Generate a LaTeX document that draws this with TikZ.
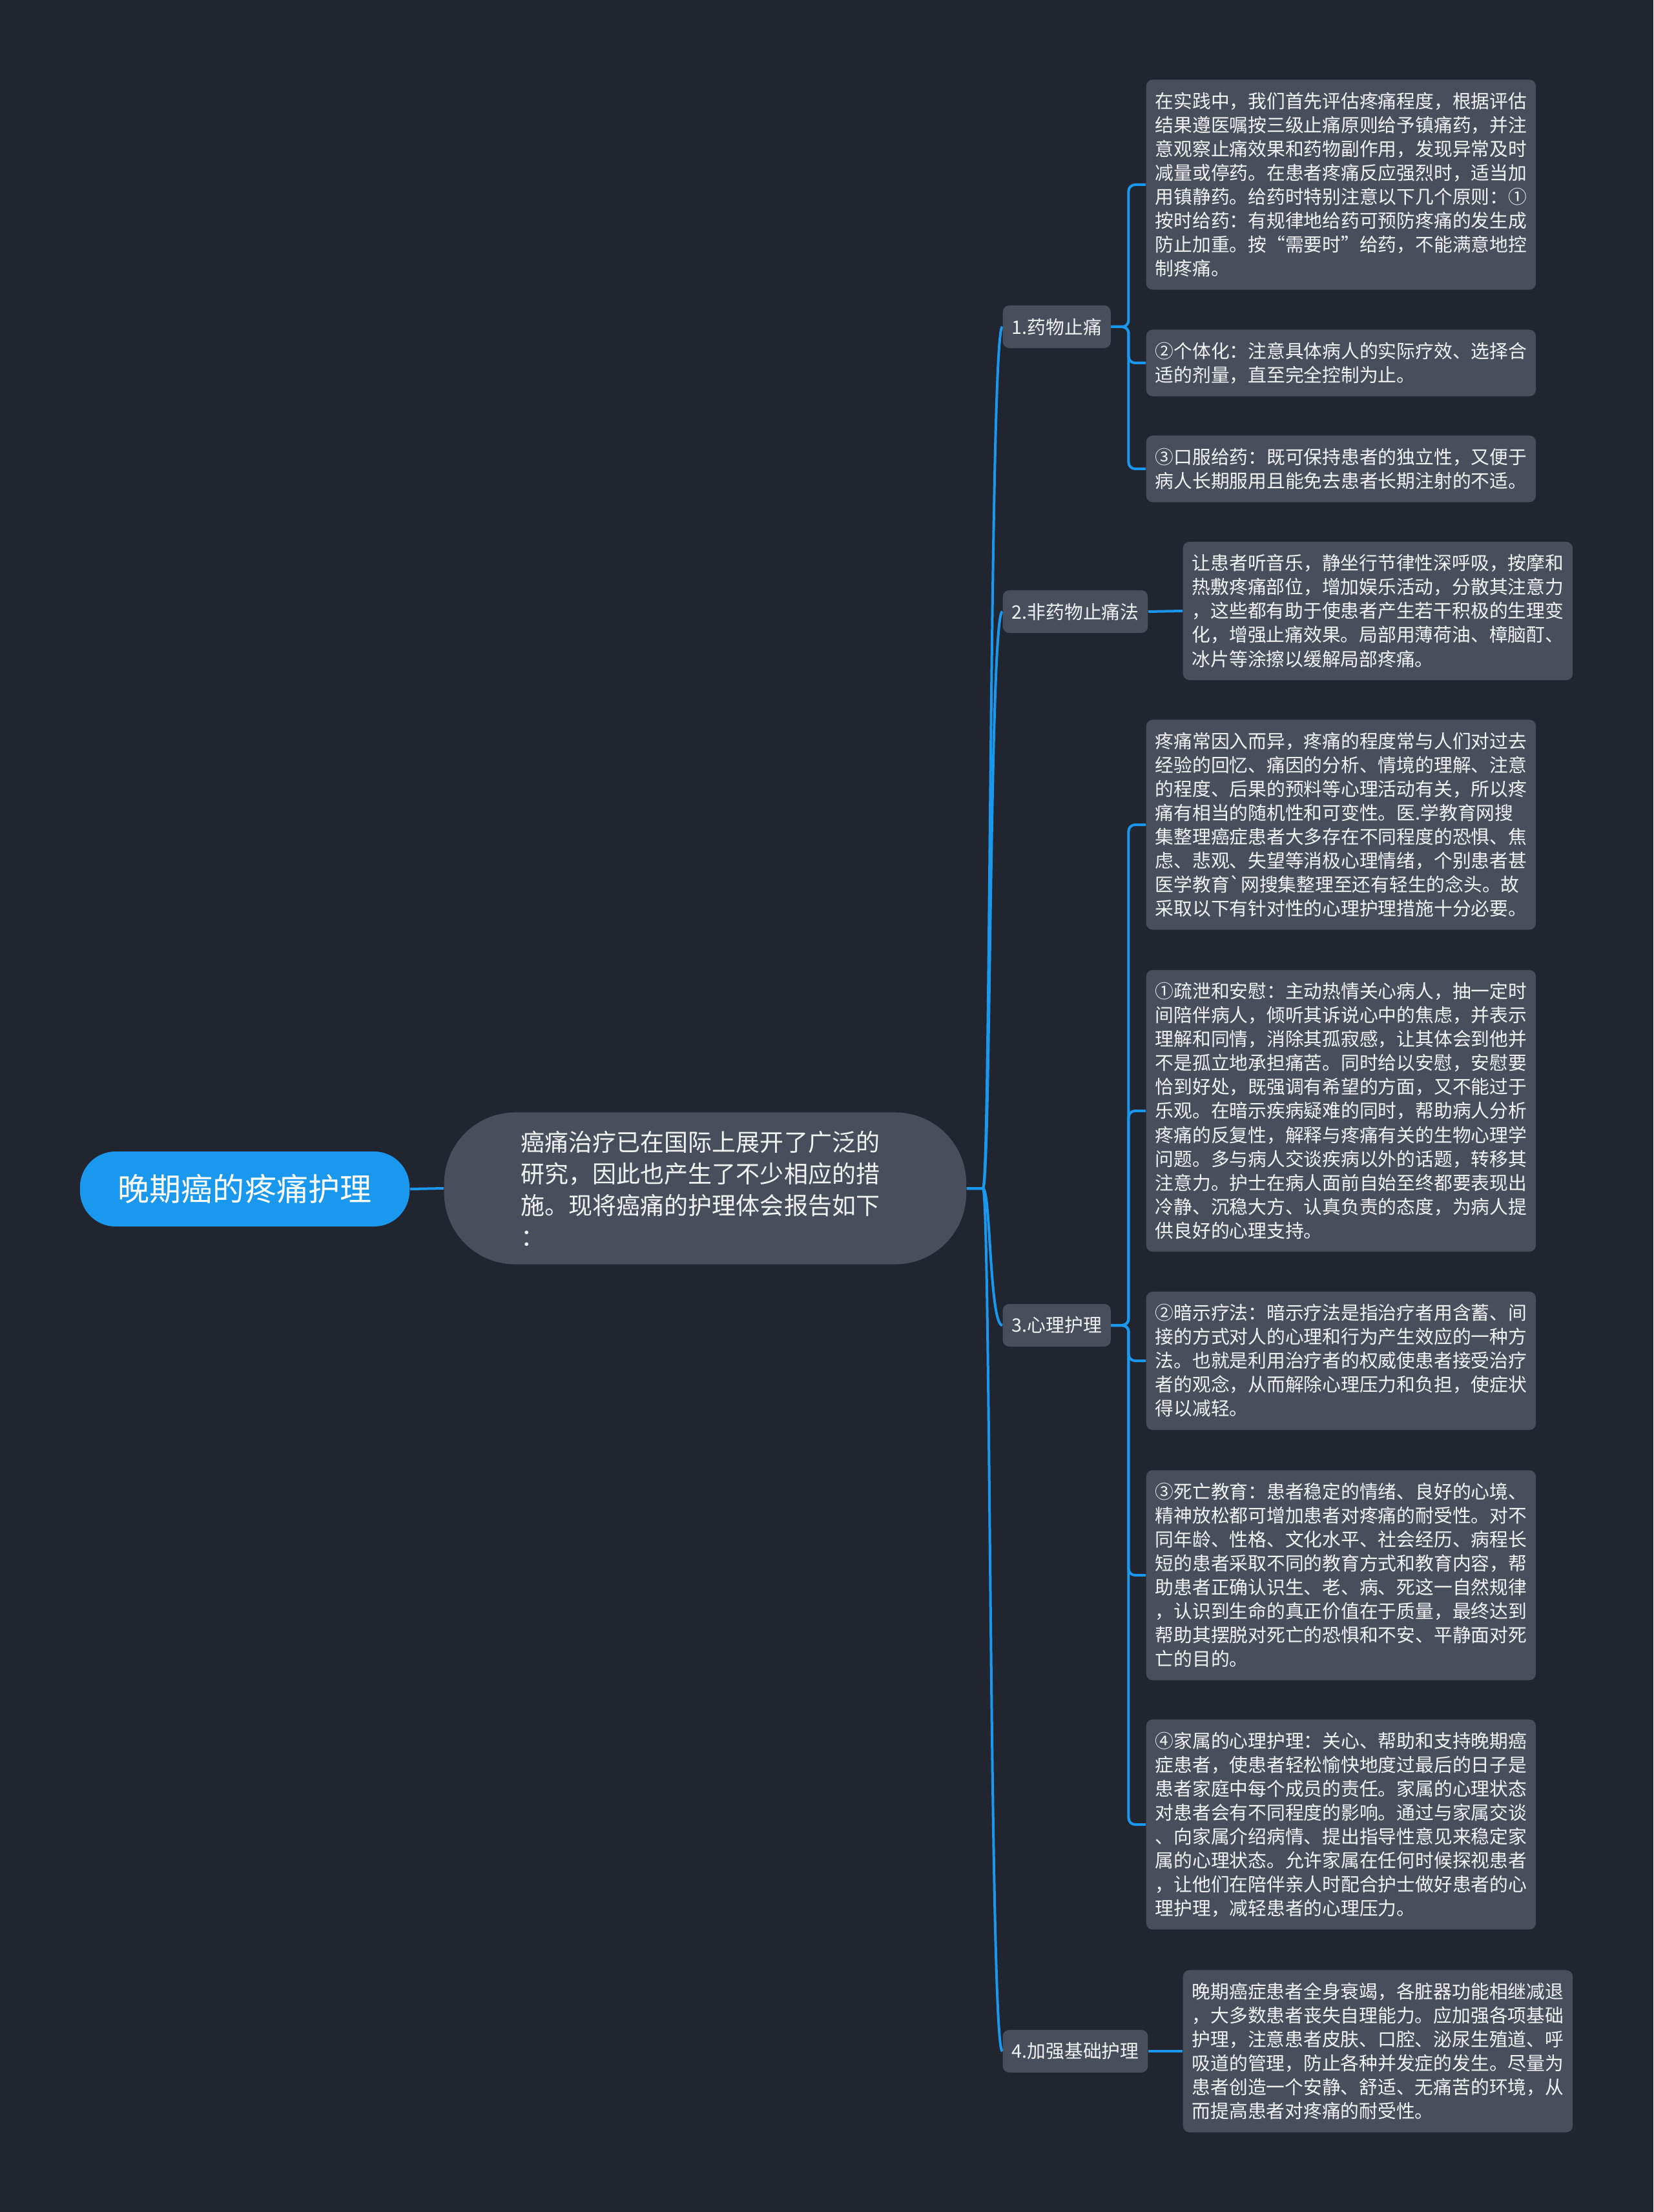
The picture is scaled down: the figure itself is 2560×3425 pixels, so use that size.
\documentclass[tikz,border=0pt]{standalone}
\usepackage{fontspec}
\newfontfamily\cjk{Noto Sans CJK SC}
\definecolor{bgdark}{RGB}{33,37,48}
\definecolor{cardgray}{RGB}{72,78,92}
\definecolor{mapblue}{RGB}{26,152,238}
\definecolor{inktext}{RGB}{242,242,242}
\tikzset{
  card/.style={fill=cardgray, text=inktext, rounded corners=0.1cm},
  leaf/.style={card, anchor=west, align=left, text width=5.75cm,
    inner xsep=0.14cm, inner ysep=0pt,
    font=\cjk\fontsize{0.2875cm}{0.37cm}\selectfont},
  nlines/.style={minimum height=0.37cm*#1+0.29cm},
  branch/.style={card, anchor=west, minimum height=0.66cm,
    inner xsep=0.14cm, font=\cjk\fontsize{0.2875cm}{0.37cm}\selectfont},
  link/.style={draw=mapblue, line width=0.04cm, rounded corners=0.1cm},
}
\begin{document}
\begin{tikzpicture}[x=0.01cm,y=-0.01cm]
  \fill[bgdark] (0,0) rectangle (2560,3425);
  % centre
  \node[fill=mapblue, text=white, rounded corners=0.55cm, minimum width=5.1cm,
    minimum height=1.16cm, font=\cjk\fontsize{0.49cm}{0.6cm}\selectfont]
    (root) at (379,1841) {晚期癌的疼痛护理};
  \node[card, anchor=west, rounded corners=1.1cm, minimum width=8.08cm,
    minimum height=2.35cm, text width=5.7cm, align=left, inner sep=0pt,
    font=\cjk\fontsize{0.37cm}{0.49cm}\selectfont] (intro) at (687,1840)
    {癌痛治疗已在国际上展开了广泛的\\研究，因此也产生了不少相应的措\\施。现将癌痛的护理体会报告如下\\：};
  % branches
  \node[branch] (b1) at (1552,506) {1.药物止痛};
  \node[branch] (b2) at (1552,947) {2.非药物止痛法};
  \node[branch] (b3) at (1552,2052) {3.心理护理};
  \node[branch] (b4) at (1552,3176) {4.加强基础护理};
  % leaves
  \node[leaf, nlines=8] (l11) at (1774,286) {在实践中，我们首先评估疼痛程度，根据评估\\
    结果遵医嘱按三级止痛原则给予镇痛药，并注\\
    意观察止痛效果和药物副作用，发现异常及时\\
    减量或停药。在患者疼痛反应强烈时，适当加\\
    用镇静药。给药时特别注意以下几个原则：①\\
    按时给药：有规律地给药可预防疼痛的发生成\\
    防止加重。按“需要时”给药，不能满意地控\\
    制疼痛。};
  \node[leaf, nlines=2] (l12) at (1774,562) {②个体化：注意具体病人的实际疗效、选择合\\
    适的剂量，直至完全控制为止。};
  \node[leaf, nlines=2] (l13) at (1774,726) {③口服给药：既可保持患者的独立性，又便于\\
    病人长期服用且能免去患者长期注射的不适。};
  \node[leaf, nlines=5] (l21) at (1831,946) {让患者听音乐，静坐行节律性深呼吸，按摩和\\
    热敷疼痛部位，增加娱乐活动，分散其注意力\\
    ，这些都有助于使患者产生若干积极的生理变\\
    化，增强止痛效果。局部用薄荷油、樟脑酊、\\
    冰片等涂擦以缓解局部疼痛。};
  \node[leaf, nlines=8] (l31) at (1774,1277) {疼痛常因入而异，疼痛的程度常与人们对过去\\
    经验的回忆、痛因的分析、情境的理解、注意\\
    的程度、后果的预料等心理活动有关，所以疼\\
    痛有相当的随机性和可变性。医.学教育网搜\\
    集整理癌症患者大多存在不同程度的恐惧、焦\\
    虑、悲观、失望等消极心理情绪，个别患者甚\\
    医学教育`网搜集整理至还有轻生的念头。故\\
    采取以下有针对性的心理护理措施十分必要。};
  \node[leaf, nlines=11] (l32) at (1774,1720) {①疏泄和安慰：主动热情关心病人，抽一定时\\
    间陪伴病人，倾听其诉说心中的焦虑，并表示\\
    理解和同情，消除其孤寂感，让其体会到他并\\
    不是孤立地承担痛苦。同时给以安慰，安慰要\\
    恰到好处，既强调有希望的方面，又不能过于\\
    乐观。在暗示疾病疑难的同时，帮助病人分析\\
    疼痛的反复性，解释与疼痛有关的生物心理学\\
    问题。多与病人交谈疾病以外的话题，转移其\\
    注意力。护士在病人面前自始至终都要表现出\\
    冷静、沉稳大方、认真负责的态度，为病人提\\
    供良好的心理支持。};
  \node[leaf, nlines=5] (l33) at (1774,2107) {②暗示疗法：暗示疗法是指治疗者用含蓄、间\\
    接的方式对人的心理和行为产生效应的一种方\\
    法。也就是利用治疗者的权威使患者接受治疗\\
    者的观念，从而解除心理压力和负担，使症状\\
    得以减轻。};
  \node[leaf, nlines=8] (l34) at (1774,2439) {③死亡教育：患者稳定的情绪、良好的心境、\\
    精神放松都可增加患者对疼痛的耐受性。对不\\
    同年龄、性格、文化水平、社会经历、病程长\\
    短的患者采取不同的教育方式和教育内容，帮\\
    助患者正确认识生、老、病、死这一自然规律\\
    ，认识到生命的真正价值在于质量，最终达到\\
    帮助其摆脱对死亡的恐惧和不安、平静面对死\\
    亡的目的。};
  \node[leaf, nlines=8] (l35) at (1774,2825) {④家属的心理护理：关心、帮助和支持晚期癌\\
    症患者，使患者轻松愉快地度过最后的日子是\\
    患者家庭中每个成员的责任。家属的心理状态\\
    对患者会有不同程度的影响。通过与家属交谈\\
    、向家属介绍病情、提出指导性意见来稳定家\\
    属的心理状态。允许家属在任何时候探视患者\\
    ，让他们在陪伴亲人时配合护士做好患者的心\\
    理护理，减轻患者的心理压力。};
  \node[leaf, nlines=6] (l41) at (1831,3176) {晚期癌症患者全身衰竭，各脏器功能相继减退\\
    ，大多数患者丧失自理能力。应加强各项基础\\
    护理，注意患者皮肤、口腔、泌尿生殖道、呼\\
    吸道的管理，防止各种并发症的发生。尽量为\\
    患者创造一个安静、舒适、无痛苦的环境，从\\
    而提高患者对疼痛的耐受性。};
  % connectors
  \draw[link] (root.east) -- (intro.west);
  \foreach \b in {b1,b2,b3,b4}
    \draw[link] (intro.east) -- ++(15,0) .. controls +(22,0) and +(-20,0) .. (\b.west);
  \foreach \l in {l11,l12,l13}
    \draw[link] (b1.east) -- ++(27,0) |- (\l.west);
  \draw[link] (b2.east) -- (l21.west);
  \foreach \l in {l31,l32,l33,l34,l35}
    \draw[link] (b3.east) -- ++(27,0) |- (\l.west);
  \draw[link] (b4.east) -- (l41.west);
\end{tikzpicture}
\end{document}
